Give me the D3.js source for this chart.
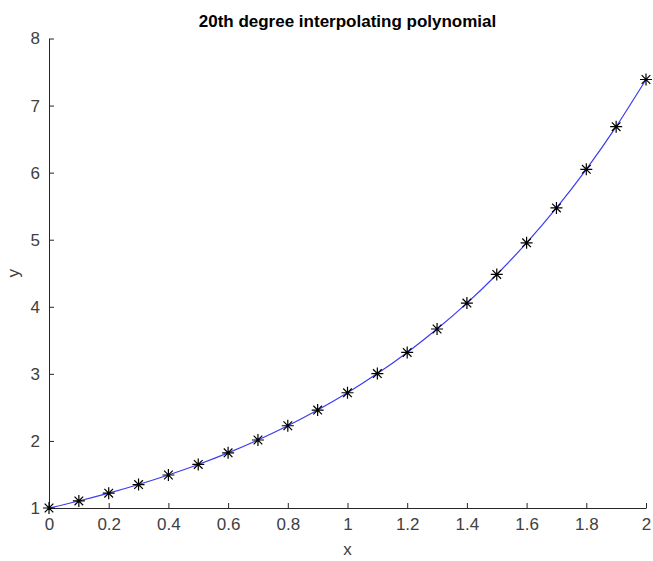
<!DOCTYPE html>
<html>
<head>
<meta charset="utf-8">
<script src="https://cdn.jsdelivr.net/npm/d3@7"></script>
<style>
  body { margin: 0; background: #fff; }
  text { font-family: "Liberation Sans", Arial, sans-serif; }
</style>
</head>
<body>
<div id="chart"></div>
<script>
// sample points (x, y)
var xs = [0, 0.1, 0.2, 0.3, 0.4, 0.5, 0.6, 0.7, 0.8, 0.9, 1.0,
          1.1, 1.2, 1.3, 1.4, 1.5, 1.6, 1.7, 1.8, 1.9, 2.0];
var ys = [1.00, 1.105, 1.221, 1.350, 1.492, 1.649, 1.822, 2.014, 2.226, 2.460, 2.718,
          3.004, 3.320, 3.669, 4.055, 4.482, 4.953, 5.474, 6.050, 6.686, 7.389];
var xTicks = [0, 0.2, 0.4, 0.6, 0.8, 1, 1.2, 1.4, 1.6, 1.8, 2];
var yTicks = [1, 2, 3, 4, 5, 6, 7, 8];

var w = 653, h = 561;
var margin = {top: 38.5, right: 7, bottom: 53, left: 49};
var width = w - margin.left - margin.right,
    height = h - margin.top - margin.bottom;

var data = xs.map(function(x, i) { return {x: x, y: ys[i]}; });

var xScale = d3.scaleLinear().domain([0, 2]).range([0, width]);
var yScale = d3.scaleLinear().domain([1, 8]).range([height, 0]);

var svg = d3.select("#chart").append("svg")
    .attr("width", w)
    .attr("height", h);

var g = svg.append("g").attr("transform", "translate(" + margin.left + "," + margin.top + ")");

// axes, ticks pointing inward like matlab
var xAxis = g.append("g")
    .attr("transform", "translate(0," + height + ")")
    .call(d3.axisBottom(xScale).tickValues(xTicks).tickSizeInner(-5).tickSizeOuter(0)
      .tickFormat(function(d) { return String(d); }));
xAxis.selectAll("text").attr("y", 10).attr("dy", "0.71em");

var yAxis = g.append("g")
    .call(d3.axisLeft(yScale).tickValues(yTicks).tickSizeInner(-5).tickSizeOuter(0)
      .tickFormat(function(d) { return String(d); }));
yAxis.selectAll("text").attr("x", -9);

g.selectAll(".domain").attr("stroke", "#262626");
g.selectAll(".tick line").attr("stroke", "#262626");
g.selectAll(".tick text").attr("fill", "#404040").style("font-size", "17px");

// interpolating curve
var line = d3.line()
    .x(function(d) { return xScale(d.x); })
    .y(function(d) { return yScale(d.y); })
    .curve(d3.curveNatural);

g.append("path")
    .datum(data)
    .attr("fill", "none")
    .attr("stroke", "#3c3cf0")
    .attr("stroke-width", 1.2)
    .attr("d", line);

// star markers
var r = 6, rd = r * 0.72;
var star = "M" + (-r) + ",0L" + r + ",0M0," + (-r) + "L0," + r +
           "M" + (-rd) + "," + (-rd) + "L" + rd + "," + rd +
           "M" + (-rd) + "," + rd + "L" + rd + "," + (-rd);

g.selectAll(".pt")
    .data(data)
  .enter().append("path")
    .attr("class", "pt")
    .attr("transform", function(d) { return "translate(" + xScale(d.x) + "," + yScale(d.y) + ")"; })
    .attr("d", star)
    .attr("stroke", "#000")
    .attr("stroke-width", 1.2)
    .attr("fill", "none");

// labels
svg.append("text")
    .attr("x", margin.left + width / 2)
    .attr("y", 27)
    .attr("text-anchor", "middle")
    .style("font-size", "17px")
    .style("font-weight", "bold")
    .attr("fill", "#000")
    .text("20th degree interpolating polynomial");

svg.append("text")
    .attr("x", margin.left + width / 2)
    .attr("y", 555)
    .attr("text-anchor", "middle")
    .style("font-size", "17px")
    .attr("fill", "#404040")
    .text("x");

svg.append("text")
    .attr("transform", "translate(19," + (margin.top + height / 2) + ") rotate(-90)")
    .attr("text-anchor", "middle")
    .style("font-size", "17px")
    .attr("fill", "#404040")
    .text("y");
</script>
</body>
</html>
